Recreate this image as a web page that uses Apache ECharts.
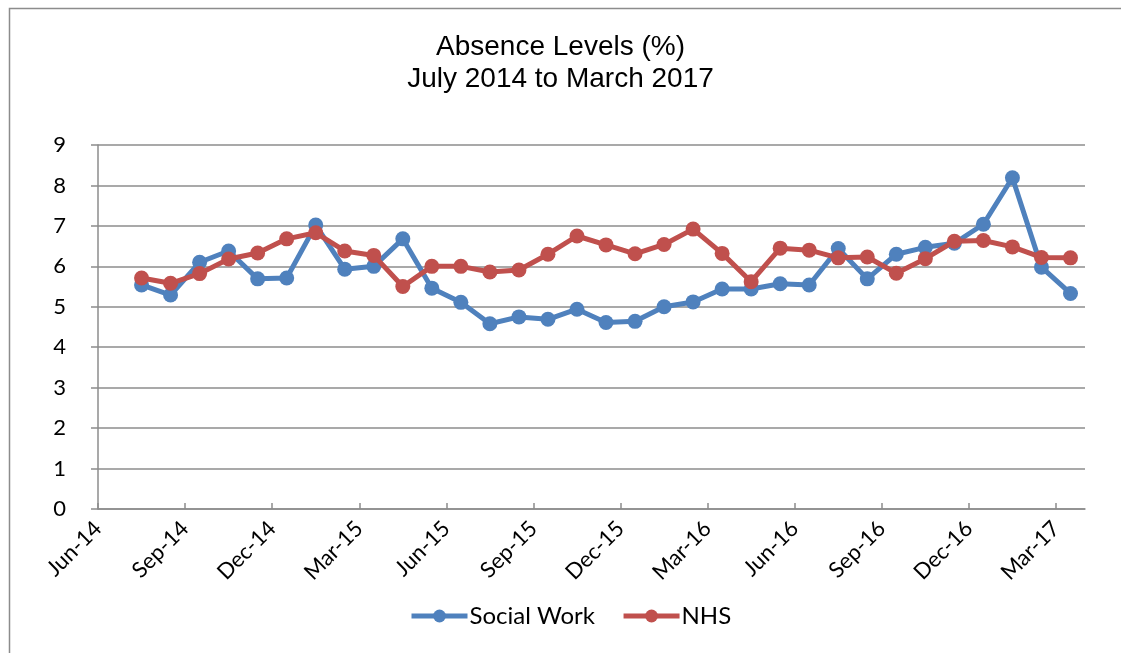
<!DOCTYPE html>
<html lang="en" style="height: 100%">

<head>
  <meta charset="UTF-8" />
  <title>Absence Levels</title>
  <script src="https://cdn.jsdelivr.net/npm/echarts@6/dist/echarts.min.js"></script>
</head>

<body style="height: 100%; margin: 0">
  <div id="main" style="height: 100%"></div>
  <script type="text/javascript">
    // axis months (Jun-14 .. Mar-17), one label every 3 months
    var months = ['Jun-14', 'Jul-14', 'Aug-14', 'Sep-14', 'Oct-14', 'Nov-14', 'Dec-14', 'Jan-15', 'Feb-15', 'Mar-15', 'Apr-15', 'May-15',
      'Jun-15', 'Jul-15', 'Aug-15', 'Sep-15', 'Oct-15', 'Nov-15', 'Dec-15', 'Jan-16', 'Feb-16', 'Mar-16', 'Apr-16', 'May-16',
      'Jun-16', 'Jul-16', 'Aug-16', 'Sep-16', 'Oct-16', 'Nov-16', 'Dec-16', 'Jan-17', 'Feb-17', 'Mar-17'];
    var tickLabels = ['Jun-14', 'Sep-14', 'Dec-14', 'Mar-15', 'Jun-15', 'Sep-15', 'Dec-15', 'Mar-16', 'Jun-16', 'Sep-16', 'Dec-16', 'Mar-17'];

    // monthly values Jul-14 .. Mar-17
    var dataMonths = months.slice(1);
    var socialWork = [5.54, 5.29, 6.1, 6.38, 5.69, 5.71, 7.02, 5.93, 6.0, 6.68, 5.46, 5.11, 4.58,
      4.75, 4.69, 4.94, 4.61, 4.64, 5.0, 5.12, 5.44, 5.44, 5.57, 5.54, 6.44, 5.69, 6.3, 6.47, 6.57, 7.04, 8.19, 5.98, 5.33];
    var nhs = [5.71, 5.58, 5.82, 6.18, 6.33, 6.68, 6.83, 6.38, 6.27, 5.5, 6.0, 6.0, 5.86,
      5.91, 6.3, 6.75, 6.53, 6.31, 6.54, 6.92, 6.32, 5.62, 6.45, 6.4, 6.21, 6.23, 5.83, 6.19, 6.62, 6.64, 6.48, 6.22, 6.21];

    var blue = '#4F81BD';
    var red = '#C0504D';
    var axisGray = '#8C8C8C';
    var labelFont = 'Lato, "Open Sans", sans-serif';

    // month index on the x value axis; each point sits mid-month
    function toPoints(vals) {
      var out = [];
      for (var i = 0; i < vals.length; i++) {
        out.push([months.indexOf(dataMonths[i]) + 0.5, vals[i]]);
      }
      return out;
    }
    var tickPos = tickLabels.map(function (l) { return months.indexOf(l); });

    var myChart = echarts.init(document.getElementById('main'));

    var option = {
      animation: false,
      backgroundColor: '#fff',
      graphic: [{
        type: 'rect',
        left: 7,
        top: 6,
        shape: { width: 1140, height: 680 },
        style: { fill: 'none', stroke: axisGray, lineWidth: 1.5 },
        silent: true
      }],
      title: {
        text: 'Absence Levels (%)\nJuly 2014 to March 2017',
        left: 'center',
        top: 26,
        textStyle: {
          fontFamily: '"Liberation Sans", Arial, sans-serif',
          fontSize: 28,
          fontWeight: 'normal',
          color: '#000',
          lineHeight: 32
        }
      },
      legend: {
        bottom: 20,
        left: 404,
        itemWidth: 56,
        itemHeight: 16,
        itemGap: 26,
        lineStyle: { width: 5 },
        textStyle: { fontFamily: labelFont, fontSize: 24, color: '#000', padding: [0, 0, 0, -3] },
        data: ['Social Work', 'NHS']
      },
      grid: {
        left: 98,
        right: 36,
        top: 145,
        bottom: 144,
        containLabel: false
      },
      xAxis: {
        type: 'value',
        min: 0,
        max: months.length,
        interval: 3,
        splitLine: { show: false },
        axisLine: { show: true, lineStyle: { color: axisGray, width: 1.5 } },
        axisTick: { show: true, inside: true, length: 6, customValues: tickPos, lineStyle: { color: axisGray, width: 1.5 } },
        axisLabel: {
          customValues: tickPos,
          rotate: 45,
          margin: 16,
          fontFamily: labelFont,
          fontSize: 22,
          color: '#000',
          formatter: function (v) { return months[v] || ''; }
        }
      },
      yAxis: {
        type: 'value',
        min: 0,
        max: 9,
        interval: 1,
        axisLine: { show: true, lineStyle: { color: axisGray, width: 1.5 } },
        axisTick: { show: true, length: 7, lineStyle: { color: axisGray, width: 1.5 } },
        splitLine: { show: true, lineStyle: { color: axisGray, width: 1.5 } },
        axisLabel: { margin: 32, fontFamily: labelFont, fontSize: 22, color: '#000' }
      },
      series: [
        {
          name: 'Social Work',
          type: 'line',
          data: toPoints(socialWork),
          symbol: 'circle',
          symbolSize: 15,
          itemStyle: { color: blue },
          lineStyle: { color: blue, width: 5 },
          z: 2
        },
        {
          name: 'NHS',
          type: 'line',
          data: toPoints(nhs),
          symbol: 'circle',
          symbolSize: 15,
          itemStyle: { color: red },
          lineStyle: { color: red, width: 5 },
          z: 3
        }
      ]
    };

    if (option && typeof option === 'object') {
      myChart.setOption(option);
    }

    window.addEventListener('resize', myChart.resize);
  </script>
</body>

</html>
